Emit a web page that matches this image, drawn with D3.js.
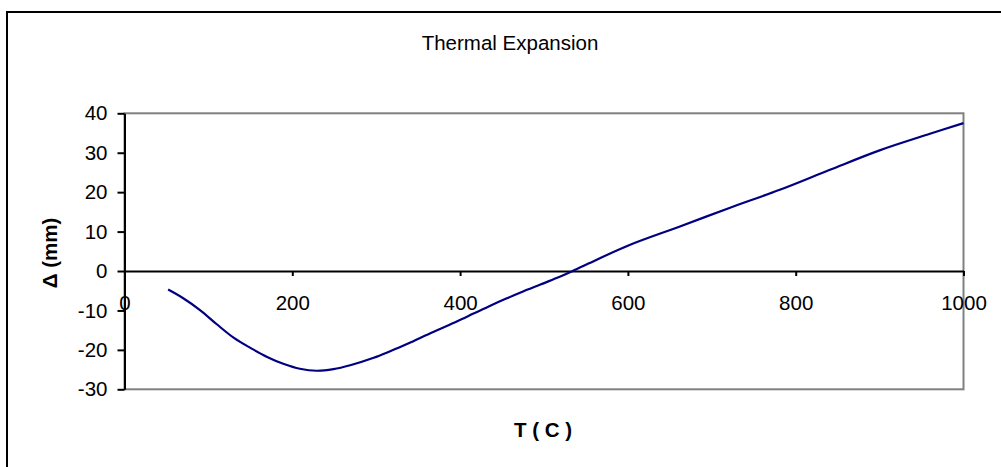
<!DOCTYPE html>
<html>
<head>
<meta charset="utf-8">
<script src="https://cdn.jsdelivr.net/npm/d3@7"></script>
<style>
  html, body { margin: 0; padding: 0; background: #fff; }
  svg { display: block; font-family: "Liberation Sans", Arial, sans-serif; }
</style>
</head>
<body>
<svg id="chart" width="1001" height="467"></svg>
<script>
// Data
const temperature = [52, 70, 90, 110, 130, 150, 170, 190, 209, 229, 249, 269, 297, 316, 336, 356, 376, 396, 416, 436, 455, 475, 495, 515, 535, 553, 602, 662, 721, 781, 840, 900, 960, 1000];
const expansion = [-4.7, -6.9, -9.9, -13.5, -16.9, -19.5, -21.8, -23.6, -24.8, -25.3, -24.9, -23.9, -22.0, -20.4, -18.6, -16.6, -14.7, -12.8, -10.8, -8.8, -7.0, -5.2, -3.5, -1.8, 0.1, 1.9, 6.6, 11.3, 16.0, 20.6, 25.6, 30.6, 34.8, 37.5];
const xTicks = [0, 200, 400, 600, 800, 1000];
const yTicks = [-30, -20, -10, 0, 10, 20, 30, 40];
const chartTitle = "Thermal Expansion";
const xTitle = "T ( C )";
const yTitle = "\u0394 (mm)";

const svg = d3.select("#chart");
const plot = { left: 124.5, right: 963.5, top: 113.3, bottom: 389.3 };

const x = d3.scaleLinear().domain([0, 1000]).range([plot.left, plot.right]);
const y = d3.scaleLinear().domain([-30, 40]).range([plot.bottom, plot.top]);

const fmt = d => String(d); // plain hyphen-minus like the reference

// Outer chart border (extends beyond the visible window on right/bottom)
svg.append("rect")
  .attr("x", 7).attr("y", 12)
  .attr("width", 1100).attr("height", 600)
  .attr("fill", "#fff").attr("stroke", "#000").attr("stroke-width", 2);

// Plot frame (grey)
svg.append("rect")
  .attr("x", plot.left).attr("y", plot.top)
  .attr("width", plot.right - plot.left).attr("height", plot.bottom - plot.top)
  .attr("fill", "none").attr("stroke", "#808080").attr("stroke-width", 2);

// Title
svg.append("text")
  .attr("x", 510).attr("y", 49.5)
  .attr("text-anchor", "middle")
  .attr("font-size", 20.5)
  .attr("fill", "#000")
  .text(chartTitle);

// Y axis
const yAxis = d3.axisLeft(y).tickValues(yTicks).tickSize(7).tickPadding(10).tickSizeOuter(0).tickFormat(fmt);
const gy = svg.append("g").attr("transform", `translate(${plot.left},0)`).call(yAxis);
gy.select(".domain").attr("stroke", "#000").attr("stroke-width", 2);
gy.selectAll(".tick line").attr("stroke", "#000").attr("stroke-width", 2);
gy.selectAll(".tick text").attr("font-size", 20.5).attr("fill", "#000")
  .attr("font-family", "'Liberation Sans', Arial, sans-serif");

// X axis on zero line
const xAxis = d3.axisBottom(x).tickValues(xTicks).tickSize(5).tickPadding(19).tickSizeOuter(0).tickFormat(fmt);
const gx = svg.append("g").attr("transform", `translate(0,${y(0)})`).call(xAxis);
gx.select(".domain").attr("stroke", "#000").attr("stroke-width", 2);
gx.selectAll(".tick line").attr("stroke", "#000").attr("stroke-width", 2);
gx.selectAll(".tick text").attr("font-size", 20.5).attr("fill", "#000")
  .attr("font-family", "'Liberation Sans', Arial, sans-serif");

// Axis titles
svg.append("text")
  .attr("x", 543).attr("y", 437)
  .attr("text-anchor", "middle")
  .attr("font-size", 20.5).attr("font-weight", "bold")
  .attr("fill", "#000")
  .text(xTitle);

svg.append("text")
  .attr("transform", "translate(57,253) rotate(-90)")
  .attr("text-anchor", "middle")
  .attr("font-size", 20.5).attr("font-weight", "bold")
  .attr("fill", "#000")
  .text(yTitle);

// Data line
const pts = temperature.map((t, i) => [t, expansion[i]]);
const line = d3.line().x(d => x(d[0])).y(d => y(d[1])).curve(d3.curveCatmullRom.alpha(0.5));
svg.append("path")
  .datum(pts)
  .attr("d", line)
  .attr("fill", "none")
  .attr("stroke", "#000080")
  .attr("stroke-width", 2.2);
</script>
</body>
</html>
